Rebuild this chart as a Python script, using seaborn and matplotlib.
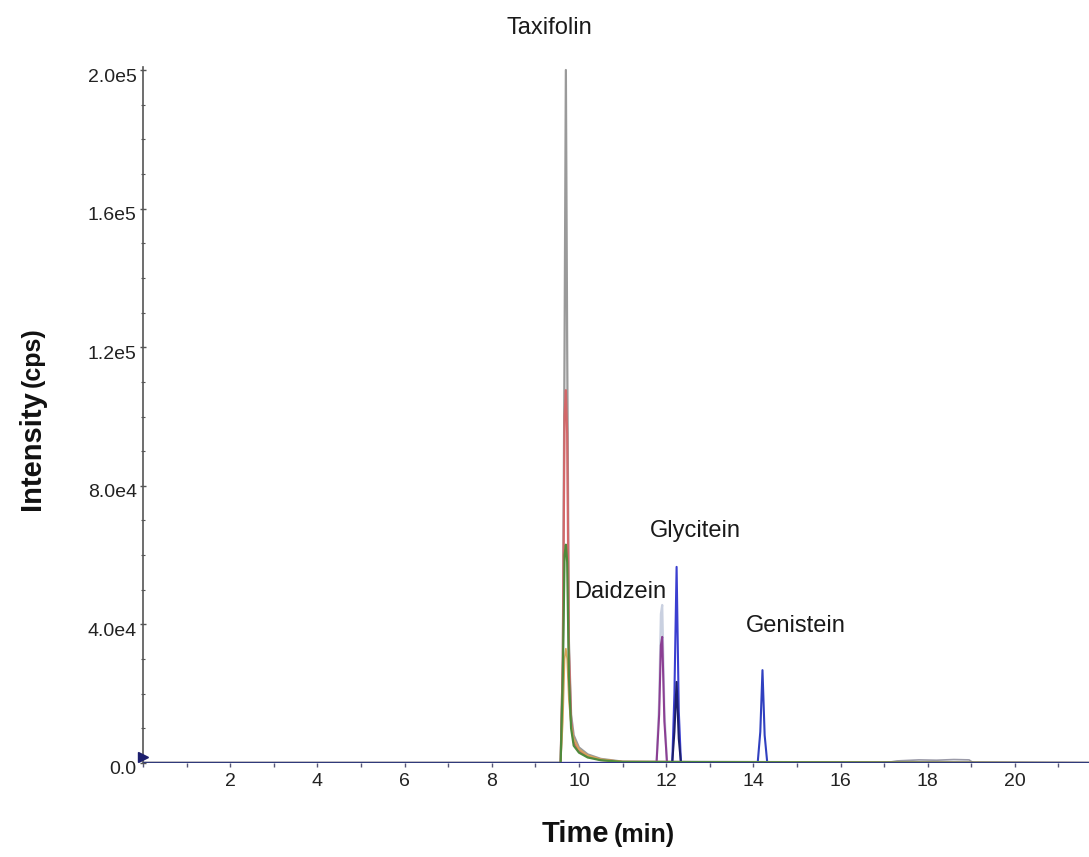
import matplotlib
matplotlib.use("Agg")
import matplotlib.pyplot as plt
import matplotlib.transforms as mtransforms
from matplotlib.ticker import MultipleLocator, FixedLocator
import numpy as np
import pandas as pd
import seaborn as sns

sns.set_theme(style="white")
plt.rcParams['font.family'] = ['Liberation Sans', 'DejaVu Sans']

# ---------------- data ----------------
# Taxifolin (several transitions)
tax_time   = [0.0, 9.58, 9.63, 9.67, 9.70, 9.73, 9.77, 9.82, 9.88, 10.0, 10.2, 10.5, 11.0, 21.7]
tax_gray   = [0, 0, 3.0e4, 1.2e5, 2.0e5, 1.2e5, 3.5e4, 1.4e4, 8.0e3, 4.5e3, 2.5e3, 1.2e3, 4.0e2, 0]
tax_red    = [0, 0, 3.0e4, 1.0e5, 1.076e5, 9.5e4, 3.2e4, 1.2e4, 6.0e3, 3.5e3, 2.0e3, 9.0e2, 3.0e2, 0]
tax_orange = [0, 0, 1.2e4, 3.0e4, 3.3e4, 3.0e4, 1.8e4, 1.1e4, 7.0e3, 4.0e3, 2.2e3, 1.1e3, 4.0e2, 0]
tax_green  = [0, 0, 2.5e4, 6.0e4, 6.3e4, 5.8e4, 2.5e4, 1.0e4, 5.0e3, 3.0e3, 1.6e3, 8.0e2, 3.0e2, 0]

# Daidzein
dai_time   = [0.0, 11.78, 11.84, 11.88, 11.91, 11.96, 12.02, 21.7]
dai_light  = [0, 0, 1.8e4, 4.3e4, 4.56e4, 1.5e4, 0, 0]
dai_purple = [0, 0, 1.4e4, 3.4e4, 3.64e4, 1.2e4, 0, 0]

# Glycitein
gly_time   = [0.0, 12.14, 12.19, 12.24, 12.29, 12.34, 21.7]
gly_blue   = [0, 0, 2.0e4, 5.66e4, 1.5e4, 0, 0]
gly_navy   = [0, 0, 9.0e3, 2.34e4, 7.0e3, 0, 0]

# Genistein
gen_time   = [0.0, 14.10, 14.16, 14.21, 14.26, 14.32, 21.7]
gen_blue   = [0, 0, 9.0e3, 2.68e4, 8.0e3, 0, 0]

# late baseline hump
hump_time  = [0.0, 17.0, 17.3, 17.8, 18.2, 18.6, 18.95, 19.05, 21.7]
hump_vals  = [0, 0, 600, 900, 800, 1000, 900, 0, 0]

base_time  = [0.0, 21.7]
base_vals  = [0, 0]

labels     = ["Taxifolin", "Daidzein", "Glycitein", "Genistein"]
label_x    = [9.33, 10.94, 12.68, 14.98]
label_y    = [2.12e5, 4.93e4, 6.69e4, 3.95e4]

x_major    = [2, 4, 6, 8, 10, 12, 14, 16, 18, 20]
y_major    = [0, 4.0e4, 8.0e4, 1.2e5, 1.6e5, 2.0e5]
y_labels   = ["0.0", "4.0e4", "8.0e4", "1.2e5", "1.6e5", "2.0e5"]

# ---------------- figure ----------------
W, H = 1089, 857
fig = plt.figure(figsize=(W / 100, H / 100), dpi=100)
x0, y0, x1, y1 = 143, 763, 1089, 67
ax = fig.add_axes([x0 / W, 1 - y0 / H, (x1 - x0) / W, (y0 - y1) / H])

def trace(t, v, color, lw=1.3, z=2):
    sns.lineplot(x=t, y=v, color=color, lw=lw, ax=ax, estimator=None,
                 sort=False, zorder=z, legend=False)

trace(tax_time, tax_gray, "#9a9a9a", 1.6, 2)
trace(tax_time, tax_red, "#d2686a", 1.6, 3)
trace(tax_time, tax_orange, "#d8a35a", 1.2, 3.5)
trace(tax_time, tax_green, "#4e8a3c", 1.6, 4)
trace(dai_time, dai_light, "#c9d0e0", 1.6, 2)
trace(dai_time, dai_purple, "#8b3f93", 1.5, 3)
trace(gly_time, gly_blue, "#3b3fd0", 1.5, 2)
trace(gly_time, gly_navy, "#1c1f6e", 1.5, 3)
trace(gen_time, gen_blue, "#3040c0", 1.5, 3)
trace(hump_time, hump_vals, "#9a9aa8", 1.2, 2)
trace(base_time, base_vals, "#2d3183", 2.0, 5)

# marker at origin
ax.plot([0], [1.8e3], marker=">", color="#1c1f6e", ms=7, clip_on=False, zorder=6)

ax.set_xlim(0, 21.7)
ax.set_ylim(0, 2.0e5 * (y0 - y1) / (y0 - 70))

for s in ["top", "right", "bottom"]:
    ax.spines[s].set_visible(False)
ax.spines["left"].set_color("#555555")
ax.spines["left"].set_linewidth(1.2)

ax.xaxis.set_major_locator(FixedLocator(x_major))
ax.xaxis.set_minor_locator(MultipleLocator(1))
ax.yaxis.set_major_locator(FixedLocator(y_major))
ax.yaxis.set_minor_locator(MultipleLocator(1.0e4))
ax.set_yticklabels(y_labels)
ax.set_xticklabels([str(v) for v in x_major])

ax.tick_params(axis="x", which="both", direction="out", length=3, width=1,
               color="#555577", labelsize=14, labelcolor="#222222", pad=4,
               bottom=True)
ax.tick_params(axis="y", which="major", direction="inout", length=5, width=1,
               color="#555555", labelsize=14, labelcolor="#222222", pad=2,
               left=True)
ax.tick_params(axis="y", which="minor", direction="inout", length=3, width=0.8,
               color="#555555", left=True)
off = mtransforms.ScaledTranslation(0, -5 / 100, fig.dpi_scale_trans)
for lab in ax.get_yticklabels():
    lab.set_transform(lab.get_transform() + off)

for txt, lx, ly in zip(labels, label_x, label_y):
    ax.text(lx, ly, txt, ha="center", va="center", fontsize=17,
            color="#1a1a1a", clip_on=False, zorder=7)

# axis titles
fig.text(609 / W, 1 - 842 / H, "Time", ha="right", va="baseline",
         fontsize=21, fontweight="bold", color="#111111")
fig.text(614 / W, 1 - 842 / H, "(min)", ha="left", va="baseline",
         fontsize=18, fontweight="bold", color="#111111")
fig.text(40 / W, 1 - 510 / H, "Intensity", ha="left", va="baseline",
         rotation=90, rotation_mode="anchor",
         fontsize=21, fontweight="bold", color="#111111")
fig.text(40 / W, 1 - 387 / H, "(cps)", ha="left", va="baseline",
         rotation=90, rotation_mode="anchor",
         fontsize=18, fontweight="bold", color="#111111")

fig.savefig("out.png", dpi=100, facecolor="white")
